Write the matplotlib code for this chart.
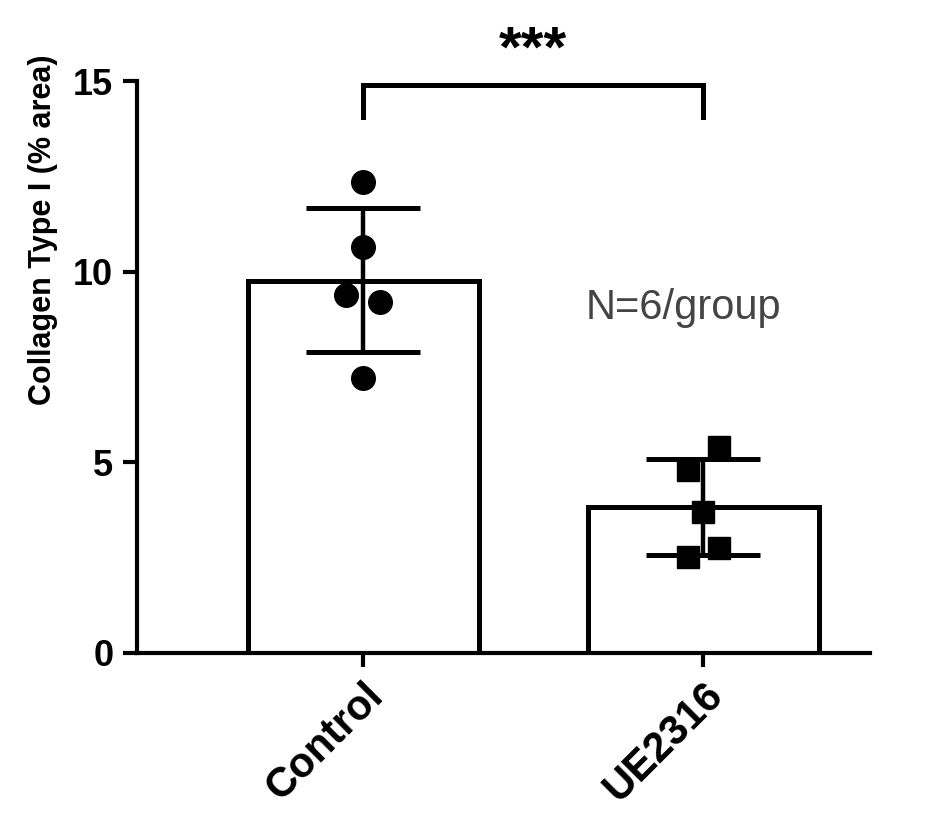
import matplotlib
matplotlib.use("Agg")
import matplotlib.pyplot as plt
import numpy as np

plt.rcParams.update({
    "font.family": ["Liberation Sans", "DejaVu Sans"],
    "font.weight": "bold",
    "axes.spines.top": False,
    "axes.spines.right": False,
})

groups = ["Control", "UE2316"]
means = [9.75, 3.82]
err_lo = [7.89, 2.57]
err_hi = [11.67, 5.09]
control_pts = [12.35, 10.65, 9.39, 9.20, 7.21]
control_dx = [0.0, 0.0, -0.05, 0.05, 0.0]
ue_pts = [5.40, 4.80, 3.70, 2.52, 2.75]
ue_dx = [0.045, -0.045, 0.0, -0.045, 0.045]
yticks = [0, 5, 10, 15]

fig = plt.figure(figsize=(9.4, 8.27), dpi=100)
ax = fig.add_axes([0.1457, 0.2104, 0.7798, 0.6916])

x = np.arange(len(groups))
ax.bar(x, means, 0.68, color="white", edgecolor="black", linewidth=3.6, zorder=1)

yerr = np.array([[m - lo for m, lo in zip(means, err_lo)],
                 [hi - m for m, hi in zip(means, err_hi)]])
ax.errorbar(x, means, yerr=yerr, fmt="none", ecolor="black", elinewidth=3.2,
            capsize=41, capthick=3.6, zorder=3)

ax.plot(x[0] + np.array(control_dx), control_pts, "o", color="black", ms=17,
        ls="none", zorder=4, clip_on=False)
ax.plot(x[1] + np.array(ue_dx), ue_pts, "s", color="black", ms=16,
        ls="none", zorder=4, clip_on=False)

# significance bracket
ax.plot([0, 0, 1, 1], [14.06, 14.9, 14.9, 14.06], color="black", lw=3.6,
        clip_on=False, solid_joinstyle="miter")
ax.text(0.5, 15.39, "***", ha="center", va="baseline", fontsize=42,
        fontweight="bold")

ax.text(0.655, 9.05, "N=6/group", ha="left", va="center", fontsize=30,
        fontweight="normal", color="#444444")

ax.set_xlim(-0.665, 1.49)
ax.set_ylim(0, 15)
ax.set_yticks(yticks)
ax.set_xticks(x)
ax.set_xticklabels(groups, rotation=45, ha="right", rotation_mode="anchor",
                   fontsize=30, fontweight="bold")
ax.tick_params(axis="y", labelsize=26, width=3, length=10, pad=7)
ax.tick_params(axis="x", width=3, length=10, pad=6)
for s in ["left", "bottom"]:
    ax.spines[s].set_linewidth(3)
ax.set_ylabel("Collagen Type I (% area)", fontsize=22, fontweight="bold")
ax.yaxis.set_label_coords(-0.108, 0.74)

fig.savefig("out.png", dpi=100)
